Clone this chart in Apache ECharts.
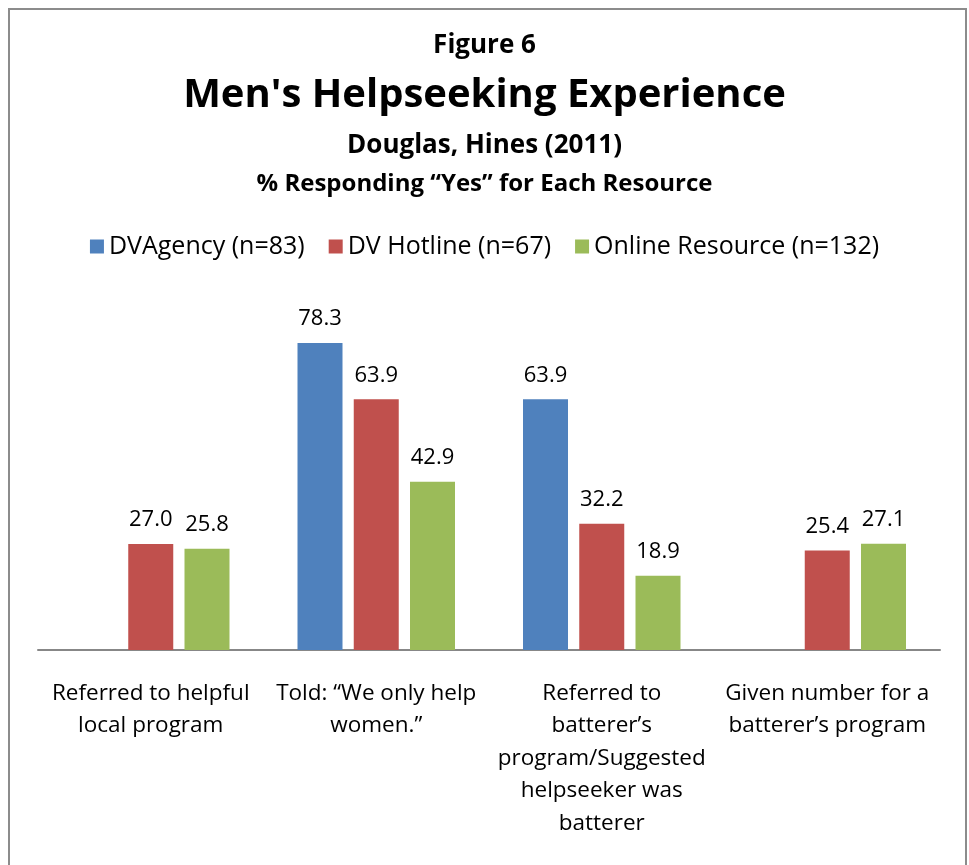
<!DOCTYPE html>
<html style='height: 100%'>
<head>
    <meta charset='utf-8'>
    <script src="https://cdn.jsdelivr.net/npm/echarts@6/dist/echarts.min.js"></script>
</head>
<body style='height: 100%; margin: 0; background: #fff'>
    <div id='container' style='width: 969px; height: 865px'></div>
    <script type="text/javascript">
var categories = [
    'Referred to helpful\nlocal program',
    'Told: \u201cWe only help\nwomen.\u201d',
    'Referred to\nbatterer\u2019s\nprogram/Suggested\nhelpseeker was\nbatterer',
    'Given number for a\nbatterer\u2019s program'
];
var seriesNames = ['DVAgency (n=83)', 'DV Hotline (n=67)', 'Online Resource (n=132)'];
var dvAgency = [null, 78.3, 63.9, null];
var dvHotline = [27.0, 63.9, 32.2, 25.4];
var onlineResource = [25.8, 42.9, 18.9, 27.1];

var font = 'Open Sans';
var dom = document.getElementById('container');
var myChart = echarts.init(dom);

function barSeries(name, data, color) {
    return {
        name: name,
        type: 'bar',
        data: data,
        barWidth: 45,
        barGap: '25%',
        itemStyle: { color: color },
        label: {
            show: true,
            position: 'top',
            distance: 13,
            color: '#000',
            fontFamily: font,
            fontSize: 22,
            formatter: function (p) { return p.value.toFixed(1); }
        }
    };
}

var option = {
    animation: false,
    graphic: [{
        type: 'rect',
        shape: { x: 9, y: 9, width: 957, height: 870 },
        style: { fill: 'none', stroke: '#8c8c8c', lineWidth: 2 }
    }],
    title: [
        { text: 'Figure 6', left: 'center', top: 28, textStyle: { fontFamily: font, fontSize: 26, fontWeight: 'bold', color: '#000' } },
        { text: "Men's Helpseeking Experience", left: 'center', top: 71, textStyle: { fontFamily: font, fontSize: 40, fontWeight: 'bold', color: '#000' } },
        { text: 'Douglas, Hines (2011)', left: 'center', top: 128, textStyle: { fontFamily: font, fontSize: 26, fontWeight: 'bold', color: '#000' } },
        { text: '% Responding \u201cYes\u201d for Each Resource', left: 'center', top: 167, textStyle: { fontFamily: font, fontSize: 24, fontWeight: 'bold', color: '#000' } }
    ],
    legend: {
        top: 229,
        left: 'center',
        itemWidth: 14,
        itemHeight: 14,
        itemGap: 24,
        icon: 'rect',
        data: seriesNames,
        textStyle: { fontFamily: font, fontSize: 25, color: '#000' }
    },
    grid: { left: 38, right: 29, top: 297, bottom: 215 },
    xAxis: {
        type: 'category',
        data: categories,
        axisLine: { lineStyle: { color: '#878787', width: 2 } },
        axisTick: { show: false },
        axisLabel: {
            interval: 0,
            margin: 27,
            lineHeight: 32.5,
            color: '#000',
            fontFamily: font,
            fontSize: 22.5
        }
    },
    yAxis: {
        type: 'value',
        min: 0,
        max: 90,
        show: false,
        splitLine: { show: false }
    },
    series: [
        barSeries(seriesNames[0], dvAgency, '#4F81BD'),
        barSeries(seriesNames[1], dvHotline, '#C0504D'),
        barSeries(seriesNames[2], onlineResource, '#9BBB59')
    ]
};
myChart.setOption(option, true);
    </script>
</body>
</html>
